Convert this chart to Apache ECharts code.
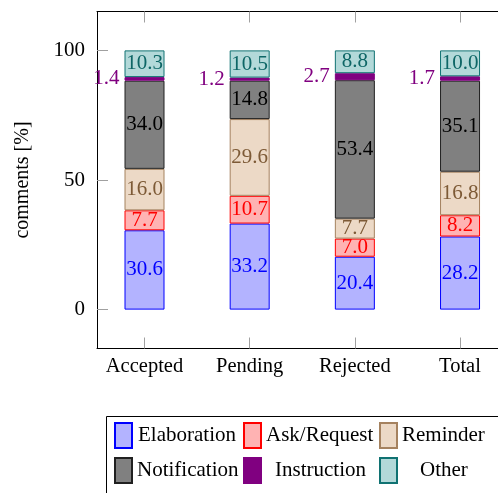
<!DOCTYPE html>
<html>
<head>
<meta charset="utf-8">
<script src="https://cdn.jsdelivr.net/npm/echarts@6/dist/echarts.min.js"></script>
<style>html,body{margin:0;padding:0;background:#fff}#c{width:498px;height:493px}</style>
</head>
<body>
<div id="c"></div>
<script>
const categories = ['Accepted', 'Pending', 'Rejected', 'Total'];
const elaboration = [30.6, 33.2, 20.4, 28.2];
const askRequest = [7.7, 10.7, 7.0, 8.2];
const reminder = [16.0, 29.6, 7.7, 16.8];
const notification = [34.0, 14.8, 53.4, 35.1];
const instruction = [1.4, 1.2, 2.7, 1.7];
const other = [10.3, 10.5, 8.8, 10.0];
const yTicks = [0, 50, 100];
const seriesNames = ['Elaboration', 'Ask/Request', 'Reminder', 'Notification', 'Instruction', 'Other'];

const FONT = 'Liberation Serif';
const styles = [
  {fill: '#b3b3ff', stroke: '#0000ff', text: '#0000ff'},
  {fill: '#ffb3b3', stroke: '#ff0000', text: '#ff0000'},
  {fill: '#ecd9c6', stroke: '#a5825f', text: '#7d5a36'},
  {fill: '#808080', stroke: '#202020', text: '#000000'},
  {fill: '#800080', stroke: '#800080', text: '#800080'},
  {fill: '#b3d9d9', stroke: '#107272', text: '#0e6666'}
];
const values = [elaboration, askRequest, reminder, notification, instruction, other];

const chart = echarts.init(document.getElementById('c'), null, {renderer: 'canvas'});
const idx = categories.map((c, i) => i);

const series = values.map((arr, s) => ({
  name: seriesNames[s],
  type: 'bar',
  stack: 'all',
  barWidth: 40,
  xAxisIndex: 2,
  yAxisIndex: 1,
  data: arr,
  itemStyle: {color: styles[s].fill, borderColor: styles[s].stroke, borderWidth: 1},
  label: {
    show: true,
    position: s === 4 ? 'left' : 'inside',
    distance: 5,
    color: styles[s].text,
    fontFamily: FONT,
    fontSize: 21,
    formatter: p => Number(p.value).toFixed(1)
  },
  emphasis: {disabled: true},
  animation: false
}));

// legend layout: [swatch x, swatch y, extra text offset]
const legendPos = [
  [114, 422, 1], [243, 422, 0], [379, 422, 0],
  [114, 457, 0], [243, 457, 9], [379, 457, 18]
];
const legends = seriesNames.map((n, s) => ({
  data: [n],
  left: legendPos[s][0],
  top: legendPos[s][1],
  padding: 0,
  itemWidth: 17,
  itemHeight: 25,
  selectedMode: false,
  icon: 'rect',
  textStyle: {fontFamily: FONT, fontSize: 21, color: '#000', padding: [12, 0, 0, legendPos[s][2]]}
}));

const tickStyle = {color: '#a0a0a0', width: 1};
const XMIN = -0.4517, XMAX = 3.4517;
chart.setOption({
  animation: false,
  grid: [
    {left: 97, top: 11.5, width: 410.5, height: 337, containLabel: false, outerBoundsMode: 'none'},
    {left: 91.92, top: 11.5, width: 420.7, height: 337, containLabel: false, outerBoundsMode: 'none'}
  ],
  legend: legends,
  graphic: [{
    type: 'rect', shape: {x: 106.5, y: 416.5, width: 420, height: 120},
    style: {fill: 'none', stroke: '#000', lineWidth: 1}, silent: true
  }],
  xAxis: [{
    gridIndex: 0, type: 'value', position: 'bottom', min: XMIN, max: XMAX,
    axisLine: {show: true, onZero: false, lineStyle: {color: '#000', width: 1}},
    axisTick: {show: true, inside: true, length: 11, customValues: idx, lineStyle: tickStyle},
    axisLabel: {customValues: idx, formatter: v => categories[Math.round(v)], fontFamily: FONT, fontSize: 20.5, color: '#000', margin: 8},
    splitLine: {show: false}
  }, {
    gridIndex: 0, type: 'value', position: 'top', min: XMIN, max: XMAX,
    axisLine: {show: true, onZero: false, lineStyle: {color: '#000', width: 1}},
    axisTick: {show: true, inside: true, length: 11, customValues: idx, lineStyle: tickStyle},
    axisLabel: {show: false},
    splitLine: {show: false}
  }, {
    gridIndex: 1, type: 'category', data: categories, show: false
  }],
  yAxis: [{
    gridIndex: 0, type: 'value', min: -15, max: 115,
    name: 'comments [%]', nameLocation: 'middle', nameGap: 64, nameRotate: 90,
    nameTextStyle: {fontFamily: FONT, fontSize: 20, color: '#000'},
    axisLine: {show: true, onZero: false, lineStyle: {color: '#000', width: 1}},
    axisTick: {show: true, inside: true, length: 11, customValues: yTicks, lineStyle: tickStyle},
    axisLabel: {customValues: yTicks, fontFamily: FONT, fontSize: 21, color: '#000', margin: 12},
    splitLine: {show: false}
  }, {
    gridIndex: 1, type: 'value', min: -15, max: 115, show: false
  }],
  series: series
});
</script>
</body>
</html>
